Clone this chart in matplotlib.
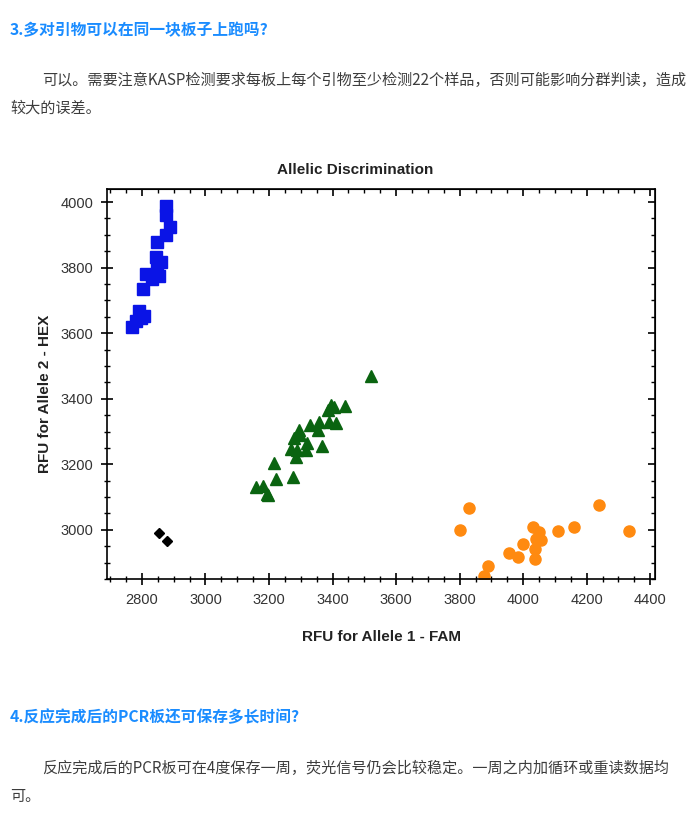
import matplotlib
matplotlib.use('Agg')
import matplotlib.pyplot as plt
from matplotlib.ticker import MultipleLocator

# values
blue_x = [2875, 2875, 2887, 2875, 2848, 2843, 2859, 2848, 2812, 2854, 2832, 2804, 2791, 2806, 2780, 2769, 2797]
blue_y = [3987, 3961, 3925, 3900, 3879, 3833, 3818, 3797, 3782, 3776, 3766, 3735, 3669, 3653, 3638, 3618, 3645]

green_x = [3520, 3394, 3405, 3439, 3387, 3389, 3412, 3358, 3328, 3355, 3295, 3279, 3297, 3321,
           3366, 3268, 3289, 3315, 3286, 3216, 3276, 3221, 3160, 3181, 3195, 3197]
green_y = [3469, 3382, 3376, 3378, 3366, 3330, 3325, 3330, 3320, 3305, 3305, 3279, 3289, 3264,
           3255, 3248, 3243, 3245, 3222, 3204, 3161, 3156, 3130, 3135, 3110, 3105]

orange_x = [3801, 3830, 3877, 3888, 3954, 3983, 4000, 4032, 4050, 4056, 4040, 4038, 4038, 4111, 4161, 4240, 4334]
orange_y = [2999, 3067, 2858, 2889, 2930, 2917, 2958, 3010, 2992, 2968, 2971, 2941, 2910, 2995, 3010, 3077, 2995]

black_x = [2854, 2880]
black_y = [2989, 2966]

x_ticks = [2800, 3000, 3200, 3400, 3600, 3800, 4000, 4200, 4400]
y_ticks = [3000, 3200, 3400, 3600, 3800, 4000]

heading1 = '3.多对引物可以在同一块板子上跑吗?'
para1 = ['可以。需要注意KASP检测要求每板上每个引物至少检测22个样品，否则可能影响分群判读，造成',
         '较大的误差。']
heading2 = '4.反应完成后的PCR板还可保存多长时间?'
para2 = ['反应完成后的PCR板可在4度保存一周，荧光信号仍会比较稳定。一周之内加循环或重读数据均',
         '可。']

cjk = ['Noto Sans CJK SC', 'DejaVu Sans']
sans = ['Liberation Sans', 'DejaVu Sans']
W, H = 699, 823

fig = plt.figure(figsize=(W / 100, H / 100), dpi=100)
fig.patch.set_facecolor('white')

def fx(px):
    return px / W

def fy(py):
    return 1 - py / H

# surrounding page text
fig.text(fx(10), fy(30), heading1, family=cjk, fontsize=11.3, fontweight='bold',
         color='#1a8cff', va='center', ha='left')
fig.text(fx(42), fy(80), para1[0], family=cjk, fontsize=10.9, color='#3c3c3c', va='center')
fig.text(fx(10), fy(108), para1[1], family=cjk, fontsize=10.9, color='#3c3c3c', va='center')
fig.text(fx(10), fy(717), heading2, family=cjk, fontsize=11.3, fontweight='bold',
         color='#1a8cff', va='center', ha='left')
fig.text(fx(42), fy(768), para2[0], family=cjk, fontsize=10.9, color='#3c3c3c', va='center')
fig.text(fx(10), fy(796), para2[1], family=cjk, fontsize=10.9, color='#3c3c3c', va='center')

# chart
ax = fig.add_axes([fx(107), fy(579), fx(655) - fx(107), fy(189) - fy(579)])
ax.plot(blue_x, blue_y, 's', color='#0a14e6', markersize=8.3, linestyle='none')
ax.plot(green_x, green_y, '^', color='#0a6410', markersize=8.5, linestyle='none')
ax.plot(orange_x, orange_y, 'o', color='#ff8a10', markersize=8, linestyle='none')
ax.plot(black_x, black_y, 'D', color='black', markersize=5.5, linestyle='none')

ax.set_xlim(2690, 4415)
ax.set_ylim(2850, 4040)
ax.set_xticks(x_ticks)
ax.set_yticks(y_ticks)
ax.xaxis.set_minor_locator(MultipleLocator(50))
ax.yaxis.set_minor_locator(MultipleLocator(50))
ax.tick_params(which='major', direction='inout', length=8, width=1.2,
               labelsize=10.5, labelcolor='#333333', pad=6)
ax.tick_params(which='minor', direction='inout', length=5, width=1)
for lab in ax.get_xticklabels() + ax.get_yticklabels():
    lab.set_family(sans)
for s in ax.spines.values():
    s.set_linewidth(1.2)

top = ax.secondary_xaxis('top')
top.set_xticks(x_ticks)
top.xaxis.set_minor_locator(MultipleLocator(50))
top.tick_params(which='major', direction='in', length=5, width=1.2, labeltop=False)
top.tick_params(which='minor', direction='in', length=3, width=1)
right = ax.secondary_yaxis('right')
right.set_yticks(y_ticks)
right.yaxis.set_minor_locator(MultipleLocator(50))
right.tick_params(which='major', direction='in', length=5, width=1.2, labelright=False)
right.tick_params(which='minor', direction='in', length=3, width=1)

fig.text(fx(355), fy(170), 'Allelic Discrimination', family=sans, fontsize=11,
         fontweight='bold', color='#222222', ha='center', va='center')
fig.text(fx(382), fy(637), 'RFU for Allele 1 - FAM', family=sans, fontsize=11,
         fontweight='bold', color='#222222', ha='center', va='center')
fig.text(fx(45), fy(394), 'RFU for Allele 2 - HEX', family=sans, fontsize=11,
         fontweight='bold', color='#222222', ha='center', va='center', rotation=90)

fig.savefig('out.png', dpi=100, facecolor='white')
